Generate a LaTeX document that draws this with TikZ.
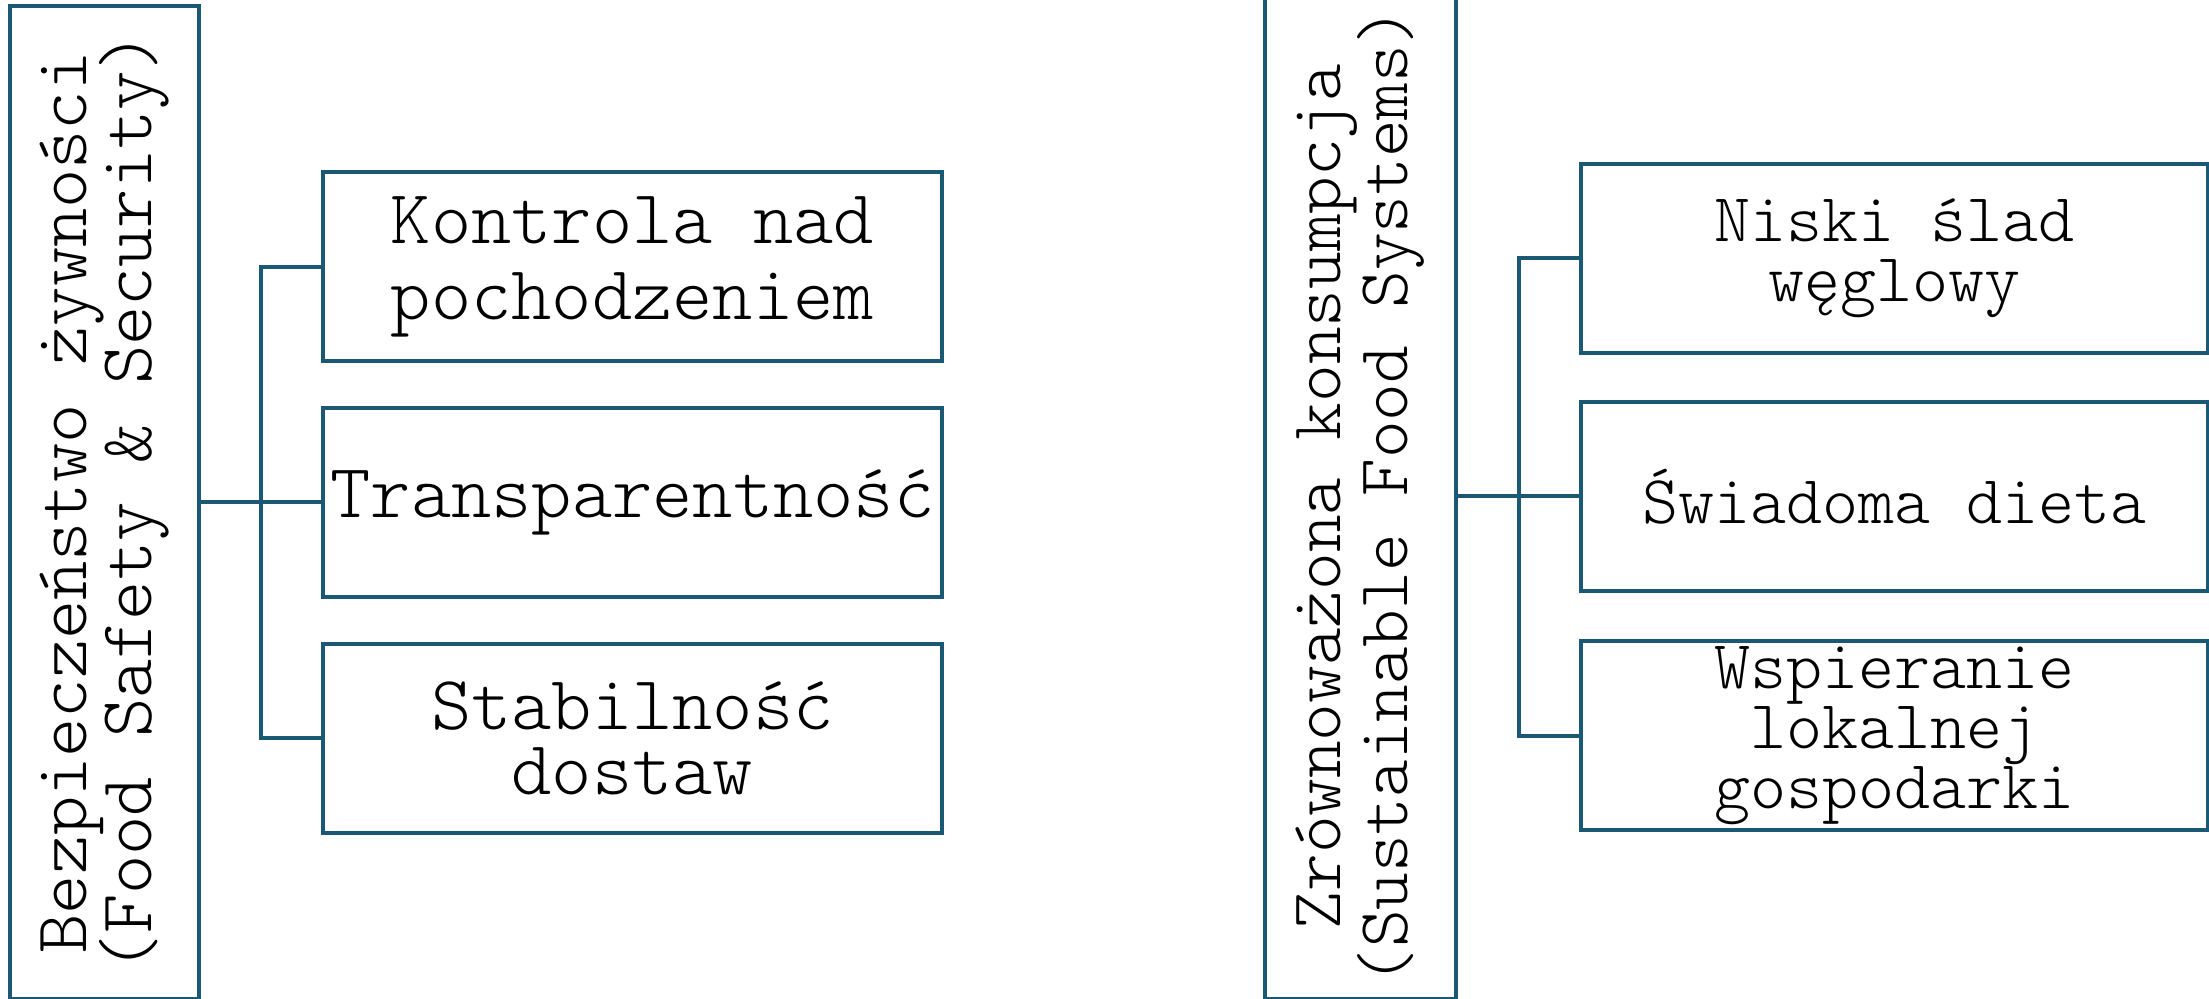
\documentclass[tikz,border=0pt]{standalone}
\usepackage{fontspec}
\newfontfamily\cour{Latin Modern Mono Light}
\definecolor{frame}{RGB}{26,88,118}
\begin{document}
\lineskiplimit=-\maxdimen
\begin{tikzpicture}[x=0.3pt,y=-0.3pt,
  box/.style={draw=frame, line width=1.2pt, rectangle, inner sep=0pt, align=center, text=black},
  link/.style={draw=frame, line width=1.2pt},
  headL/.style={box, rotate=90, font=\cour\fontsize{22.4pt}{19.5pt}\selectfont},
  headR/.style={box, rotate=90, font=\cour\fontsize{21.5pt}{20pt}\selectfont},
  itemL/.style={box, minimum width=619.3*0.3pt, minimum height=188.5*0.3pt, font=\cour\fontsize{23pt}{19.5pt}\selectfont},
  itemR/.style={box, minimum width=626.2*0.3pt, minimum height=189.5*0.3pt, font=\cour\fontsize{20.6pt}{17.9pt}\selectfont}
]
\useasboundingbox (0,0) rectangle (2209,999);

% left group: food safety and security
\node[headL, minimum width=993*0.3pt, minimum height=188.7*0.3pt] (L) at (104.4,502.5)
  {Bezpieczeństwo żywności\\(Food Safety \& Security)};
\node[itemL, font=\cour\fontsize{23pt}{22.8pt}\selectfont] (k1) at (632.4,266.7) {Kontrola nad\\pochodzeniem};
\node[itemL] (k2) at (632.4,502.5) {Transparentność};
\node[itemL] (k3) at (632.4,738.4) {Stabilność\\dostaw};

\coordinate (jL) at (260.6,502.5);
\draw[link] (k1.west) -| (jL) |- (k3.west);
\draw[link] (L.south) -- (k2.west);

% right group: sustainable food systems
\node[headR, minimum width=1005*0.3pt, minimum height=191.3*0.3pt] (R) at (1360.4,496.5)
  {Zrównoważona konsumpcja\\(Sustainable Food Systems)};
\node[itemR] (r1) at (1894.4,258.3) {Niski ślad\\węglowy};
\node[itemR] (r2) at (1894.4,496.5) {Świadoma dieta};
\node[itemR] (r3) at (1894.4,735.7) {Wspieranie\\lokalnej\\gospodarki};

\coordinate (jR) at (1518.5,496.5);
\draw[link] (r1.west) -| (jR) |- (r3.west);
\draw[link] (R.south) -- (r2.west);
\end{tikzpicture}
\end{document}
